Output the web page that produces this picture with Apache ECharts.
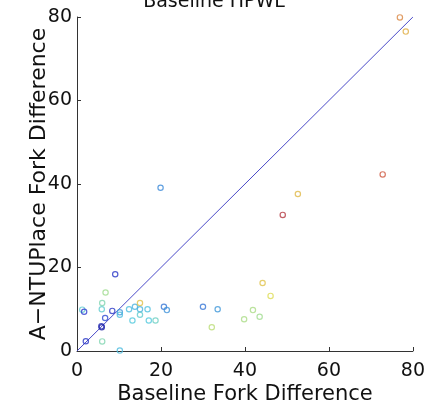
<!DOCTYPE html>
<html>
<head>
<meta charset="utf-8">
<script src="https://cdn.jsdelivr.net/npm/echarts@6/dist/echarts.min.js"></script>
<style>
html,body{margin:0;padding:0;background:#fff;}
#chart{width:428px;height:410px;}
</style>
</head>
<body>
<div id="chart"></div>
<script>
// Baseline fork difference (x), A-NTUPlace fork difference (y), colour value (c, 0..1 on jet scale)
var baselineFork = [19.9, 9.1, 6.8, 6.0, 5.9, 1.25, 1.7, 8.4, 6.7, 5.9, 5.8, 2.1, 6.0, 10.2, 10.2, 10.2, 12.4, 13.8, 15.0, 15.0, 16.8, 15.0, 13.2, 17.1, 18.7, 20.7, 21.4, 30.0, 33.5, 32.1, 39.8, 41.9, 43.5, 44.2, 46.1, 49.0, 52.6, 72.8, 76.9, 78.3];
var ntuFork      = [39.1, 18.4, 14.0, 11.5, 10.0, 9.9, 9.4, 9.6, 7.9, 5.7, 5.9, 2.35, 2.3, 0.1, 9.3, 8.7, 10.0, 10.6, 11.5, 10.0, 10.0, 8.7, 7.3, 7.3, 7.3, 10.6, 9.8, 10.6, 10.0, 5.7, 7.6, 9.8, 8.2, 16.3, 13.2, 32.6, 37.6, 42.3, 79.9, 76.5];
var colourValue  = [0.25, 0.1, 0.5, 0.45, 0.4, 0.4, 0.12, 0.1, 0.15, 0.02, 0.05, 0.1, 0.45, 0.35, 0.28, 0.35, 0.35, 0.33, 0.68, 0.33, 0.36, 0.4, 0.38, 0.38, 0.42, 0.22, 0.27, 0.22, 0.28, 0.55, 0.52, 0.52, 0.5, 0.68, 0.62, 0.95, 0.7, 0.88, 0.8, 0.72];
var diagX = [0, 80];
var diagY = [0, 80];
var xTicks = [0, 20, 40, 60, 80];
var yTicks = [0, 20, 40, 60, 80];

var points = baselineFork.map(function (x, i) { return [x, ntuFork[i], colourValue[i]]; });
var diag = diagX.map(function (x, i) { return [x, diagY[i]]; });

var ring = 'path://M0,-10A10,10,0,1,1,0,10A10,10,0,1,1,0,-10ZM0,-6.3A6.3,6.3,0,1,0,0,6.3A6.3,6.3,0,1,0,0,-6.3Z';
var font = 'DejaVu Sans';

var chart = echarts.init(document.getElementById('chart'), null, {renderer: 'canvas'});
chart.setOption({
  animation: false,
  backgroundColor: '#fff',
  title: {
    text: 'Baseline HPWL',
    left: 'center',
    top: -12,
    textStyle: {fontFamily: font, fontSize: 19, fontWeight: 'normal', color: '#111'}
  },
  grid: {left: 77, right: 10, top: 17, bottom: 53, containLabel: false},
  xAxis: {
    type: 'value', min: xTicks[0], max: xTicks[xTicks.length - 1], interval: 20,
    name: 'Baseline Fork Difference', nameLocation: 'middle', nameGap: 33,
    nameMoveOverlap: false,
    nameTextStyle: {fontFamily: font, fontSize: 21, color: '#111'},
    axisLine: {lineStyle: {color: '#333', width: 1}},
    axisTick: {inside: true, length: 4, lineStyle: {color: '#333'}},
    axisLabel: {margin: 11, fontFamily: font, fontSize: 19, color: '#111'},
    splitLine: {show: false}
  },
  yAxis: {
    type: 'value', min: yTicks[0], max: yTicks[yTicks.length - 1], interval: 20,
    name: 'A\u2212NTUPlace Fork Difference', nameLocation: 'middle', nameGap: 27,
    nameMoveOverlap: false,
    nameTextStyle: {fontFamily: font, fontSize: 22, color: '#111'},
    axisLine: {lineStyle: {color: '#333', width: 1}},
    axisTick: {inside: true, length: 4, lineStyle: {color: '#333'}},
    axisLabel: {margin: 5, fontFamily: font, fontSize: 19, color: '#111'},
    splitLine: {show: false}
  },
  visualMap: {
    show: false,
    type: 'continuous',
    seriesIndex: 1,
    dimension: 2,
    min: 0, max: 1,
    inRange: {color: ['#1a1a9a', '#2a3ad0', '#3a88d8', '#50c8e0', '#a0dc90', '#e0dc50', '#e0a040', '#d05a40', '#a02040']}
  },
  series: [
    {
      type: 'line',
      data: diag,
      showSymbol: false,
      symbol: 'none',
      lineStyle: {color: '#4a4ac8', width: 1},
      z: 1
    },
    {
      type: 'scatter',
      data: points,
      symbol: ring,
      symbolSize: 6.5,
      z: 2
    }
  ]
});
</script>
</body>
</html>
